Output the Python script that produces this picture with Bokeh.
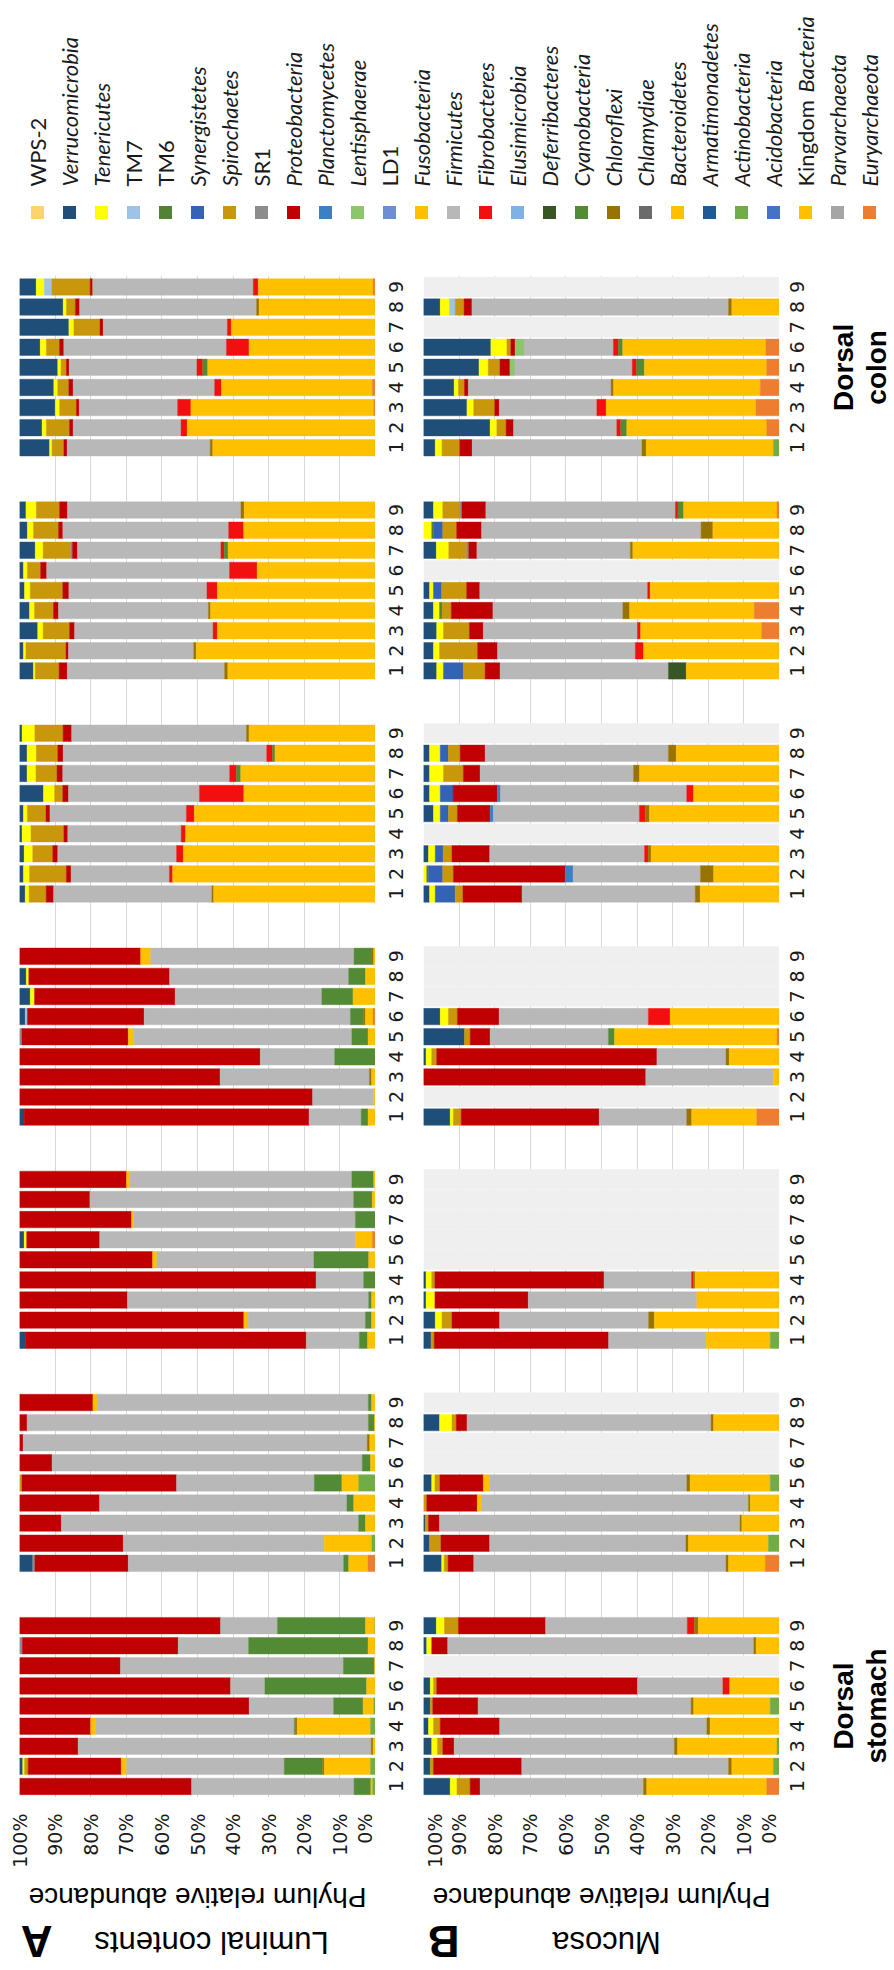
import math
from bokeh.plotting import figure
from bokeh.layouts import column, row
from bokeh.models import Range1d, FixedTicker, PrintfTickFormatter, ColumnDataSource
from bokeh.core.properties import value
from bokeh.embed import file_html
from bokeh.resources import INLINE

# ---------------------------------------------------------------- phyla
# Legend order; bars are stacked in the same order from 100% down to 0%.
PHYLA = ["WPS-2", "Verrucomicrobia", "Tenericutes", "TM7", "TM6", "Synergistetes",
         "Spirochaetes", "SR1", "Proteobacteria", "Planctomycetes", "Lentisphaerae",
         "LD1", "Fusobacteria", "Firmicutes", "Fibrobacteres", "Elusimicrobia",
         "Deferribacteres", "Cyanobacteria", "Chloroflexi", "Chlamydiae",
         "Bacteroidetes", "Armatimonadetes", "Actinobacteria", "Acidobacteria",
         "Kingdom Bacteria", "Parvarchaeota", "Euryarchaeota"]
PHYLUM_COLORS = ["#FFD36B", "#1F4E79", "#FFFF00", "#9DC3E6", "#548235", "#3462B4",
                 "#C9970C", "#8C8C8C", "#C00000", "#3B7FC4", "#8CC56C",
                 "#6C8FD4", "#FFC000", "#B8B8B8", "#F20F0F", "#7EB2E4",
                 "#375623", "#528A35", "#997300", "#6B6B6B",
                 "#FFC000", "#1F5A96", "#70AD47", "#4472C4",
                 "#FFC000", "#A5A5A5", "#ED7D31"]
UPRIGHT = {"WPS-2", "TM7", "TM6", "SR1", "LD1"}

SAMPLES = ["1", "2", "3", "4", "5", "6", "7", "8", "9"]
SITE_LABELS = [("Dorsal", "stomach"), None, None, None, None, None, ("Dorsal", "colon")]

# ------------------------------------------------ A: luminal contents (%)
lum_site1 = {
    "Verrucomicrobia": [0, 0.9, 0, 0, 0, 0, 0, 0, 0],
    "Tenericutes":     [0, 0.5, 0, 0, 0, 0, 0, 0, 0],
    "Spirochaetes":    [0, 1.0, 0, 0, 0, 0, 0, 0, 0],
    "SR1":             [0, 0, 0, 0, 0, 0, 0, 0.8, 0],
    "Proteobacteria":  [48.2, 25.8, 16.4, 19.9, 64.2, 59.0, 28.3, 43.6, 56.2],
    "Fusobacteria":    [0, 1.5, 0, 1.4, 0, 0, 0, 0, 0],
    "Firmicutes":      [45.5, 43.7, 82.0, 55.6, 23.6, 9.6, 62.5, 19.7, 15.9],
    "Cyanobacteria":   [4.7, 10.6, 0, 0.4, 8.2, 28.4, 8.7, 33.4, 24.6],
    "Chloroflexi":     [0, 0.5, 0.5, 0.4, 0, 0, 0, 0, 0],
    "Bacteroidetes":   [0.5, 12.8, 0.7, 20.5, 3.0, 2.5, 0.3, 2.1, 2.6],
    "Actinobacteria":  [0.8, 1.4, 0, 1.4, 0.5, 0, 0, 0, 0.2],
}
lum_site2 = {
    "Verrucomicrobia": [3.7, 0, 0, 0, 0, 0, 0, 0, 0],
    "Spirochaetes":    [0, 0, 0, 0, 0.7, 0, 0, 0, 0],
    "SR1":             [0.6, 0, 0, 0, 0, 0, 0, 0, 0],
    "Proteobacteria":  [26.1, 29.0, 11.7, 22.4, 43.2, 9.1, 1.0, 2.1, 20.5],
    "Fusobacteria":    [0, 0, 0, 0, 0, 0, 0, 0, 1.2],
    "Firmicutes":      [60.2, 56.2, 83.1, 69.2, 38.5, 86.7, 95.8, 95.6, 75.7],
    "Cyanobacteria":   [1.4, 0, 1.9, 1.9, 7.7, 2.3, 0, 1.7, 0.9],
    "Chloroflexi":     [0, 0, 0, 0, 0, 0, 0.7, 0, 0],
    "Bacteroidetes":   [5.4, 13.3, 2.8, 6.1, 4.7, 1.4, 1.6, 0.3, 1.1],
    "Actinobacteria":  [0, 1.0, 0, 0, 4.7, 0, 0, 0, 0],
    "Euryarchaeota":   [2.1, 0, 0, 0, 0, 0, 0, 0, 0],
}
lum_site3 = {
    "Verrucomicrobia": [1.6, 0, 0, 0, 0, 1.3, 0, 0, 0],
    "Tenericutes":     [0, 0, 0, 0, 0, 0.7, 0, 0, 0],
    "Proteobacteria":  [78.4, 62.7, 30.2, 82.9, 37.2, 20.4, 31.3, 19.7, 29.9],
    "Fusobacteria":    [0, 1.2, 0, 0, 1.2, 0, 0.5, 0, 1.0],
    "Firmicutes":      [14.8, 32.8, 67.5, 13.3, 43.9, 71.4, 62.0, 73.8, 62.0],
    "Cyanobacteria":   [2.3, 1.7, 0.8, 3.3, 15.3, 0, 5.6, 5.2, 6.1],
    "Bacteroidetes":   [2.2, 1.1, 1.1, 0, 1.9, 4.7, 0, 0.9, 0.5],
    "Euryarchaeota":   [0, 0, 0, 0, 0, 0.9, 0, 0, 0],
}
lum_site4 = {
    "Verrucomicrobia": [1.3, 0, 0, 0, 0, 1.6, 3.0, 1.9, 0],
    "Tenericutes":     [0, 0, 0, 0, 0, 0, 1.2, 0.7, 0],
    "TM7":             [0, 0, 0, 0, 0, 0.6, 0, 0, 0],
    "SR1":             [0, 0, 0, 0, 0.7, 0, 0, 0, 0],
    "Proteobacteria":  [79.7, 82.0, 56.0, 67.3, 29.7, 32.6, 39.3, 39.4, 33.9],
    "Fusobacteria":    [0, 0, 0, 0, 1.4, 0, 0, 0, 2.8],
    "Firmicutes":      [14.6, 17.1, 41.7, 20.8, 61.1, 57.6, 41.0, 50.1, 56.9],
    "Cyanobacteria":   [1.9, 0, 0, 11.4, 4.5, 3.7, 8.7, 4.7, 5.0],
    "Chloroflexi":     [0, 0, 0.6, 0, 0, 0.5, 0, 0, 0.5],
    "Bacteroidetes":   [2.1, 0.5, 1.1, 0, 2.1, 2.1, 6.3, 2.8, 0.5],
    "Euryarchaeota":   [0, 0, 0, 0, 0, 0.7, 0, 0, 0],
}
lum_site5 = {
    "Verrucomicrobia": [1.6, 1.1, 1.3, 0.7, 1.1, 6.7, 2.1, 2.1, 0.7],
    "Tenericutes":     [1.1, 1.7, 2.4, 2.5, 1.1, 3.1, 2.5, 2.6, 3.6],
    "Spirochaetes":    [4.8, 10.3, 5.6, 9.2, 5.2, 2.3, 5.9, 6.0, 7.9],
    "Proteobacteria":  [2.1, 1.3, 1.4, 1.1, 1.1, 1.6, 1.6, 1.5, 2.4],
    "Firmicutes":      [44.5, 27.5, 33.2, 31.7, 38.1, 36.6, 46.7, 56.9, 48.9],
    "Fibrobacteres":   [0, 0.9, 1.9, 1.2, 2.2, 12.4, 1.9, 1.6, 0],
    "Cyanobacteria":   [0, 0, 0, 0, 0, 0, 1.2, 0.7, 0],
    "Chloroflexi":     [0.5, 0, 0, 0, 0, 0, 0, 0, 0.7],
    "Bacteroidetes":   [45.5, 56.7, 53.7, 53.1, 50.6, 36.8, 37.7, 28.1, 35.4],
}
lum_site6 = {
    "Verrucomicrobia": [3.9, 1.1, 5.1, 2.8, 1.4, 1.1, 4.4, 2.2, 1.8],
    "Tenericutes":     [0.5, 0.7, 1.5, 1.4, 1.6, 1.1, 2.2, 1.7, 2.9],
    "Spirochaetes":    [6.7, 11.2, 7.4, 5.3, 9.1, 3.7, 7.7, 7.0, 6.5],
    "SR1":             [0, 0, 0, 0, 0, 0, 0.5, 0, 0],
    "Proteobacteria":  [2.3, 0.7, 1.4, 1.4, 1.7, 1.7, 1.4, 1.2, 2.2],
    "Firmicutes":      [44.1, 35.0, 38.7, 41.9, 38.6, 51.1, 40.1, 46.3, 48.5],
    "Fibrobacteres":   [0, 0, 1.2, 0, 2.9, 7.7, 0.9, 4.2, 0],
    "Cyanobacteria":   [0, 0, 0, 0, 0, 0, 1.1, 0, 0],
    "Chloroflexi":     [0.9, 0.7, 0, 0.6, 0, 0, 0, 0, 0.9],
    "Bacteroidetes":   [41.4, 50.1, 44.2, 46.1, 44.2, 33.1, 41.2, 36.8, 36.7],
}
lum_site7 = {
    "Verrucomicrobia": [8.4, 6.3, 10.0, 9.6, 10.7, 5.8, 13.8, 12.2, 4.7],
    "Tenericutes":     [0.7, 1.2, 1.2, 1.1, 0.9, 1.7, 1.4, 0.9, 2.3],
    "TM7":             [0, 0, 0, 0, 0, 0, 0, 0, 2.1],
    "Spirochaetes":    [3.3, 6.5, 4.7, 3.1, 1.5, 3.7, 7.3, 2.5, 10.8],
    "Proteobacteria":  [0.9, 1.0, 0.8, 1.2, 0.8, 1.2, 0.9, 1.2, 0.7],
    "Firmicutes":      [40.0, 30.2, 27.5, 39.6, 35.7, 45.5, 34.7, 49.4, 45.2],
    "Fibrobacteres":   [0, 1.7, 3.7, 1.9, 1.6, 6.3, 1.1, 0, 1.4],
    "Cyanobacteria":   [0, 0, 0, 0, 1.4, 0, 0, 0, 0],
    "Chloroflexi":     [0.7, 0, 0, 0, 0, 0, 0, 0.7, 0],
    "Bacteroidetes":   [45.5, 52.7, 51.1, 42.2, 46.9, 35.4, 40.3, 32.5, 32.3],
    "Euryarchaeota":   [0, 0, 0.5, 0.9, 0, 0, 0, 0, 0.7],
}
lum_missing = [[], [], [], [], [], [], []]

# ------------------------------------------------------- B: mucosa (%)
muc_site1 = {
    "Verrucomicrobia": [7.5, 1.9, 2.3, 1.4, 1.9, 1.9, 0, 0.9, 3.6],
    "Tenericutes":     [1.9, 0, 1.6, 1.4, 0, 0.9, 0, 1.4, 2.3],
    "Spirochaetes":    [3.7, 0.9, 1.5, 1.9, 0.7, 0.9, 0, 0, 3.9],
    "Proteobacteria":  [2.8, 24.8, 3.2, 16.7, 12.7, 56.4, 0, 4.5, 24.5],
    "Firmicutes":      [45.9, 58.1, 61.8, 58.2, 59.8, 24.0, 0, 86.0, 39.8],
    "Fibrobacteres":   [0, 0, 0, 0, 0, 1.9, 0, 0, 2.0],
    "Chloroflexi":     [0.9, 0.9, 0.9, 0.9, 0.7, 0, 0, 0.6, 1.1],
    "Bacteroidetes":   [33.7, 11.7, 27.9, 19.5, 21.5, 14.0, 0, 6.6, 22.8],
    "Actinobacteria":  [0, 1.7, 0.7, 0, 2.6, 0, 0, 0, 0],
    "Euryarchaeota":   [3.6, 0, 0, 0, 0, 0, 0, 0, 0],
}
muc_site2 = {
    "Verrucomicrobia": [5.1, 1.7, 0.5, 0, 2.3, 0, 0, 4.5, 0],
    "Tenericutes":     [0.7, 0, 0, 0, 0.9, 0, 0, 3.5, 0],
    "Spirochaetes":    [1.1, 3.2, 0.9, 0.9, 1.4, 0, 0, 1.2, 0],
    "Proteobacteria":  [7.2, 13.7, 3.1, 14.2, 12.2, 0, 0, 3.0, 0],
    "Fusobacteria":    [0, 0, 0, 1.2, 1.7, 0, 0, 0, 0],
    "Firmicutes":      [70.8, 55.2, 84.5, 74.9, 55.4, 0, 0, 68.5, 0],
    "Chloroflexi":     [0.7, 0.7, 0.5, 0.5, 0.9, 0, 0, 0.7, 0],
    "Bacteroidetes":   [10.3, 22.5, 10.6, 8.2, 22.5, 0, 0, 18.5, 0],
    "Actinobacteria":  [0, 3.1, 0, 0, 2.6, 0, 0, 0, 0],
    "Euryarchaeota":   [4.0, 0, 0, 0, 0, 0, 0, 0, 0],
}
muc_site3 = {
    "Verrucomicrobia": [2.1, 3.3, 0.7, 0.7, 0, 0, 0, 0, 0],
    "Tenericutes":     [0, 1.9, 2.5, 1.6, 0, 0, 0, 0, 0],
    "Spirochaetes":    [0.9, 2.8, 0, 0.9, 0, 0, 0, 0, 0],
    "Proteobacteria":  [49.0, 13.4, 26.2, 47.5, 0, 0, 0, 0, 0],
    "Firmicutes":      [27.4, 41.9, 47.3, 24.6, 0, 0, 0, 0, 0],
    "Fibrobacteres":   [0, 0, 0, 0.5, 0, 0, 0, 0, 0],
    "Chloroflexi":     [0, 1.6, 0, 0.5, 0, 0, 0, 0, 0],
    "Bacteroidetes":   [18.0, 35.2, 23.2, 23.7, 0, 0, 0, 0, 0],
    "Actinobacteria":  [2.6, 0, 0, 0, 0, 0, 0, 0, 0],
}
muc_site4 = {
    "Verrucomicrobia": [7.5, 0, 0, 0.7, 11.5, 4.7, 0, 0, 0],
    "Tenericutes":     [0.9, 0, 0, 1.6, 0, 2.3, 0, 0, 0],
    "Spirochaetes":    [2.2, 0, 0, 1.4, 1.6, 2.5, 0, 0, 0],
    "Proteobacteria":  [38.8, 0, 62.5, 61.8, 5.6, 11.7, 0, 0, 0],
    "Firmicutes":      [24.6, 0, 35.9, 19.4, 33.2, 41.9, 0, 0, 0],
    "Fibrobacteres":   [0, 0, 0, 0, 0, 6.1, 0, 0, 0],
    "Cyanobacteria":   [0, 0, 0, 0, 1.7, 0, 0, 0, 0],
    "Chloroflexi":     [1.4, 0, 0, 0.9, 0, 0, 0, 0, 0],
    "Bacteroidetes":   [18.3, 0, 1.7, 14.1, 45.6, 30.7, 0, 0, 0],
    "Euryarchaeota":   [6.4, 0, 0, 0, 0.7, 0, 0, 0, 0],
}
muc_site5 = {
    "Verrucomicrobia": [1.7, 0, 1.4, 0, 2.8, 1.7, 1.7, 1.7, 0],
    "Tenericutes":     [1.6, 0.9, 1.9, 0, 1.9, 3.0, 3.9, 3.0, 0],
    "TM6":             [0, 0.5, 0, 0, 0, 0, 0, 0, 0],
    "Synergistetes":   [5.6, 4.0, 2.2, 0, 2.3, 3.6, 0, 2.3, 0],
    "Spirochaetes":    [2.2, 3.0, 2.5, 0, 2.5, 0, 5.6, 3.3, 0],
    "Proteobacteria":  [16.6, 31.4, 10.6, 0, 9.2, 12.4, 4.7, 7.0, 0],
    "Planctomycetes":  [0, 2.2, 0, 0, 0.9, 0.9, 0, 0, 0],
    "Firmicutes":      [48.7, 35.8, 43.5, 0, 41.0, 52.2, 43.1, 51.5, 0],
    "Fibrobacteres":   [0, 0, 1.0, 0, 1.6, 1.9, 0, 0, 0],
    "Chloroflexi":     [1.4, 3.7, 0.8, 0, 1.2, 0, 1.7, 2.2, 0],
    "Bacteroidetes":   [22.3, 18.5, 36.1, 0, 36.5, 24.1, 39.3, 29.0, 0],
}
muc_site6 = {
    "Verrucomicrobia": [3.7, 2.8, 3.7, 2.8, 1.7, 0, 3.6, 0, 2.8],
    "Tenericutes":     [1.9, 1.7, 1.9, 1.7, 1.1, 0, 3.5, 2.3, 2.6],
    "TM6":             [0, 0, 0, 0.7, 0, 0, 0, 0.5, 0],
    "Synergistetes":   [5.6, 0, 0, 0, 2.3, 0, 0, 2.6, 0],
    "Spirochaetes":    [6.1, 10.7, 7.3, 2.6, 7.0, 0, 5.1, 3.9, 4.7],
    "SR1":             [0, 0, 0, 0, 0, 0, 0.5, 0, 0.7],
    "Proteobacteria":  [4.2, 5.6, 3.9, 11.7, 3.7, 0, 2.3, 7.0, 6.7],
    "Firmicutes":      [47.3, 38.7, 43.3, 36.5, 47.1, 0, 43.1, 61.6, 53.2],
    "Fibrobacteres":   [0, 2.3, 0.9, 0, 0.7, 0, 0, 0, 0.7],
    "Deferribacteres": [5.0, 0, 0, 0, 0, 0, 0, 0, 0],
    "Cyanobacteria":   [0, 0, 0, 0, 0, 0, 0, 0, 1.6],
    "Chloroflexi":     [0, 0, 0, 1.9, 0, 0, 0.7, 3.3, 0],
    "Bacteroidetes":   [26.2, 38.2, 34.0, 35.0, 36.3, 0, 41.2, 18.7, 26.2],
    "Euryarchaeota":   [0, 0, 5.0, 7.1, 0, 0, 0, 0, 0.7],
}
muc_site7 = {
    "Verrucomicrobia": [3.3, 18.7, 12.2, 8.6, 15.6, 18.9, 0, 4.7, 0],
    "Tenericutes":     [1.9, 1.9, 1.9, 1.2, 2.6, 4.5, 0, 2.6, 0],
    "TM7":             [0, 0, 0, 0, 0, 0, 0, 1.6, 0],
    "Spirochaetes":    [5.0, 2.6, 5.9, 1.7, 3.3, 1.1, 0, 2.5, 0],
    "Proteobacteria":  [3.5, 2.1, 1.3, 1.1, 2.8, 1.2, 0, 2.2, 0],
    "Lentisphaerae":   [0, 0, 0, 0, 1.4, 2.5, 0, 0, 0],
    "Firmicutes":      [47.8, 29.0, 27.4, 40.1, 33.0, 25.1, 0, 72.1, 0],
    "Fibrobacteres":   [0, 1.1, 2.6, 0, 1.2, 1.4, 0, 0, 0],
    "Cyanobacteria":   [0, 1.7, 0, 0, 2.2, 1.2, 0, 0, 0],
    "Chloroflexi":     [1.2, 0, 0, 0.7, 0, 0, 0, 0.9, 0],
    "Bacteroidetes":   [35.8, 39.3, 42.1, 41.2, 34.4, 40.2, 0, 13.4, 0],
    "Actinobacteria":  [1.7, 0, 0, 0, 0, 0, 0, 0, 0],
    "Euryarchaeota":   [0, 3.6, 6.6, 5.4, 3.6, 3.8, 0, 0, 0],
}
muc_missing = [[7], [6, 7, 9], [5, 6, 7, 8, 9], [2, 7, 8, 9], [4, 9], [6], [7, 9]]

LUMINAL = [lum_site1, lum_site2, lum_site3, lum_site4, lum_site5, lum_site6, lum_site7]
MUCOSA = [muc_site1, muc_site2, muc_site3, muc_site4, muc_site5, muc_site6, muc_site7]

# ---------------------------------------------------------------- layout
W = 894
LEGEND_H = 240
MID_H = 1630
BOTTOM_H = 100
FRAME_TOP = 35
FRAME_BOTTOM = 73
SITE_STEP = 11.1          # rows per site block, including the blank gap
BAR_H = 0.82
GRID = "#D9D9D9"
MISSING = "#EFEFEF"
INK = "#1A1A1A"

y_range = Range1d(-0.55, 75.17)
COLOR_OF = dict(zip(PHYLA, PHYLUM_COLORS))


def row_y(site, sample_idx):
    return site * SITE_STEP + sample_idx


def stacked_segments(sites, missing):
    seg = dict(y=[], left=[], right=[], color=[])
    gaps = []
    for s, site in enumerate(sites):
        for k in range(len(SAMPLES)):
            y = row_y(s, k)
            if (k + 1) in missing[s]:
                gaps.append(y)
                continue
            vals = [(ph, site.get(ph, [0] * 9)[k]) for ph in PHYLA]
            total = sum(v for _, v in vals)
            acc = 0.0
            for ph, v in vals:
                if v <= 0:
                    continue
                seg["y"].append(y)
                seg["left"].append(100 - acc * 100 / total)
                acc += v
                seg["right"].append(100 - acc * 100 / total)
                seg["color"].append(COLOR_OF[ph])
    return seg, gaps


def panel(sites, missing, width, border_left):
    p = figure(width=width, height=MID_H, x_range=Range1d(100, 0), y_range=y_range,
               toolbar_location=None, output_backend="svg", y_axis_location=None,
               min_border_left=border_left, min_border_right=0,
               min_border_top=FRAME_TOP, min_border_bottom=FRAME_BOTTOM,
               outline_line_color=None, background_fill_color="white",
               border_fill_color="white")
    ticks = list(range(0, 101, 10))
    p.xaxis.ticker = FixedTicker(ticks=ticks)
    p.xaxis.formatter = PrintfTickFormatter(format="%d%%")
    p.xaxis.major_label_orientation = math.pi / 2
    p.xaxis.major_label_standoff = 10
    p.xaxis.major_label_text_font = "DejaVu Sans"
    p.xaxis.major_label_text_font_size = "19px"
    p.xaxis.major_label_text_color = INK
    p.xaxis.axis_line_color = None
    p.xaxis.major_tick_line_color = None
    p.xaxis.minor_tick_line_color = None
    p.xgrid.grid_line_color = GRID
    p.xgrid.grid_line_width = 1
    p.ygrid.visible = False

    seg, gaps = stacked_segments(sites, missing)
    if gaps:
        p.hbar(y=gaps, left=100, right=0, height=1.0, fill_color=MISSING, line_color=None)
    src = ColumnDataSource(seg)
    p.hbar(y="y", left="left", right="right", height=BAR_H, fill_color="color",
           line_color="color", line_width=0.4, source=src)
    return p


def strip(width, num_x, with_sites=False):
    p = figure(width=width, height=MID_H, x_range=Range1d(0, width), y_range=y_range,
               toolbar_location=None, output_backend="svg",
               x_axis_location=None, y_axis_location=None,
               min_border_left=0, min_border_right=0,
               min_border_top=FRAME_TOP, min_border_bottom=FRAME_BOTTOM,
               outline_line_color=None, border_fill_color="white")
    p.grid.visible = False
    ys, txt = [], []
    for s in range(len(SITE_LABELS)):
        for k, lab in enumerate(SAMPLES):
            ys.append(row_y(s, k))
            txt.append(lab)
    p.text(x=[num_x] * len(ys), y=ys, text=txt, angle=math.pi / 2,
           text_align="center", text_baseline="middle",
           text_font=value("DejaVu Sans Mono"), text_font_size="20px", text_color=INK)
    if with_sites:
        for s, lab in enumerate(SITE_LABELS):
            if lab is None:
                continue
            yc = row_y(s, 4)
            for line, xl in zip(lab, (64, 97)):
                p.text(x=[xl], y=[yc], text=[line], angle=math.pi / 2,
                       text_align="center", text_baseline="middle",
                       text_font=value("Liberation Sans"), text_font_style="bold",
                       text_font_size="28px", text_color="black")
    return p


# ---------------------------------------------------------------- legend
leg = figure(width=W, height=LEGEND_H, x_range=Range1d(0, W), y_range=Range1d(0, LEGEND_H),
             toolbar_location=None, output_backend="svg",
             x_axis_location=None, y_axis_location=None,
             min_border=0, outline_line_color=None, border_fill_color="white")
leg.grid.visible = False
LEG_X0, LEG_DX = 37, 32
leg_x = [LEG_X0 + LEG_DX * i for i in range(len(PHYLA))]
leg.rect(x=leg_x, y=[28] * len(PHYLA), width=13, height=13,
         width_units="screen", height_units="screen",
         fill_color=PHYLUM_COLORS, line_color=None)
ital_x, ital_t, up_x, up_t = [], [], [], []
for x, name in zip(leg_x, PHYLA):
    if name in UPRIGHT:
        up_x.append(x); up_t.append(name)
    elif name == "Kingdom Bacteria":
        up_x.append(x); up_t.append("Kingdom")
    else:
        ital_x.append(x); ital_t.append(name)
TEXT_Y = 54
leg.text(x=ital_x, y=[TEXT_Y] * len(ital_x), text=ital_t, angle=math.pi / 2,
         text_align="left", text_baseline="middle", text_font=value("Lato"),
         text_font_style="italic", text_font_size="22px", text_color=INK)
leg.text(x=up_x, y=[TEXT_Y] * len(up_x), text=up_t, angle=math.pi / 2,
         text_align="left", text_baseline="middle", text_font=value("Lato"),
         text_font_size="22px", text_color=INK)
kb = PHYLA.index("Kingdom Bacteria")
leg.text(x=[leg_x[kb]], y=[TEXT_Y + 94], text=["Bacteria"], angle=math.pi / 2,
         text_align="left", text_baseline="middle", text_font=value("Lato"),
         text_font_style="italic", text_font_size="22px", text_color=INK)

# ---------------------------------------------------------------- panels
fig_a = panel(LUMINAL, lum_missing, 375, 19)
strip_a = strip(48, 20)
fig_b = panel(MUCOSA, muc_missing, 356, 0)
strip_b = strip(115, 17, with_sites=True)

# ------------------------------------------------------- bottom captions
bot = figure(width=W, height=BOTTOM_H, x_range=Range1d(0, W), y_range=Range1d(0, BOTTOM_H),
             toolbar_location=None, output_backend="svg",
             x_axis_location=None, y_axis_location=None,
             min_border=0, outline_line_color=None, border_fill_color="white")
bot.grid.visible = False
bot.text(x=[197, 601], y=[73, 73], text=["Phylum relative abundance"] * 2, angle=math.pi,
         text_align="center", text_baseline="middle", text_font=value("Liberation Sans"),
         text_font_size="28px", text_color="black")
bot.text(x=[36, 443], y=[29, 29], text=["A", "B"], angle=math.pi,
         text_align="center", text_baseline="middle", text_font=value("Liberation Sans"),
         text_font_style="bold", text_font_size="44px", text_color="black")
bot.text(x=[211, 606], y=[28, 28], text=["Luminal contents", "Mucosa"], angle=math.pi,
         text_align="center", text_baseline="middle", text_font=value("Liberation Sans"),
         text_font_size="31px", text_color="black")

layout = column(leg, row(fig_a, strip_a, fig_b, strip_b), bot, spacing=0)

with open("out.html", "w") as f:
    f.write(file_html(layout, INLINE, title="Phylum relative abundance"))
